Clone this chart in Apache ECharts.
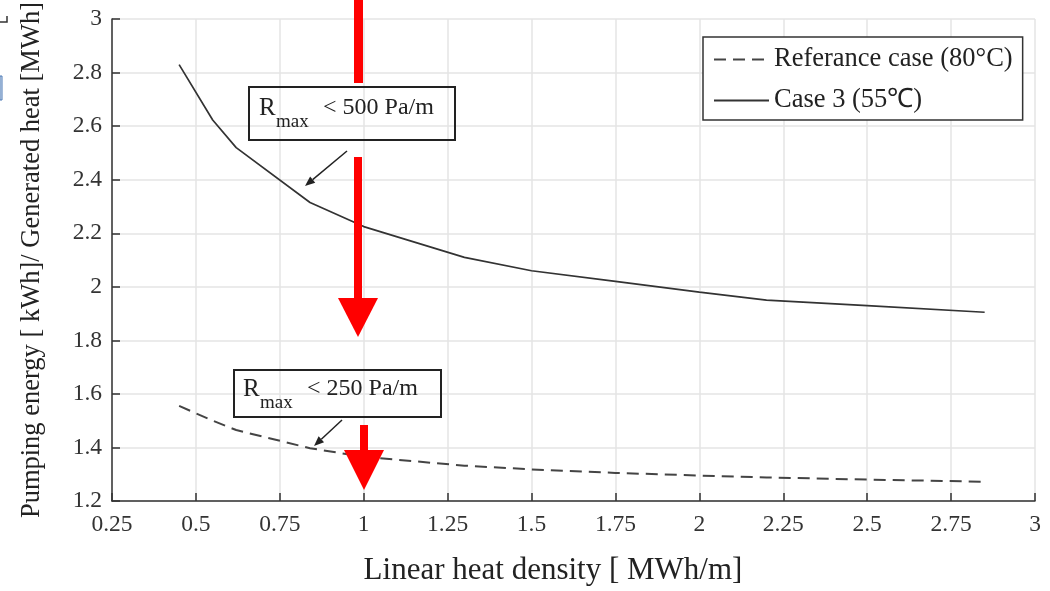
<!DOCTYPE html>
<html>
<head>
<meta charset="utf-8">
<script src="https://cdn.jsdelivr.net/npm/echarts@6/dist/echarts.min.js"></script>
<style>
html,body{margin:0;padding:0;background:#fff;}
#chart{width:1050px;height:591px;}
</style>
</head>
<body>
<div id="chart"></div>
<script>
// ---- data ----
const xValues = [0.45, 0.55, 0.62, 0.84, 1.0, 1.3, 1.5, 1.75, 2.0, 2.2, 2.5, 2.85];
const referenceCase = [1.555, 1.50, 1.465, 1.397, 1.365, 1.332, 1.318, 1.305, 1.295, 1.288, 1.280, 1.272];
const case3 = [2.83, 2.623, 2.52, 2.315, 2.225, 2.11, 2.06, 2.02, 1.98, 1.95, 1.93, 1.905];
const seriesNames = ['Referance case (80°C)', 'Case 3 (55℃)'];
const xAxisTitle = 'Linear heat density [ MWh/m]';
const yAxisTitle = 'Pumping energy [ kWh]/ Generated heat [MWh]';
const annotation1 = '< 500 Pa/m';
const annotation2 = '< 250 Pa/m';

const FONT = 'Liberation Serif, Times New Roman, serif';
const pairs = (ys) => xValues.map((x, i) => [x, ys[i]]);

function arrow(x1, y1, x2, y2, color) {
  const dx = x2 - x1, dy = y2 - y1, L = Math.hypot(dx, dy);
  const ux = dx / L, uy = dy / L, len = 10, hw = 4;
  const bx = x2 - ux * len, by = y2 - uy * len;
  return [
    {type: 'line', shape: {x1: x1, y1: y1, x2: bx, y2: by}, style: {stroke: color, lineWidth: 1.5}, z: 50},
    {type: 'polygon', shape: {points: [[x2, y2], [bx - uy * hw, by + ux * hw], [bx + uy * hw, by - ux * hw]]}, style: {fill: color}, z: 50}
  ];
}

function rmaxBox(bx, by, bw, bh, textLine, tx, baseline) {
  return [
    {type: 'rect', shape: {x: bx, y: by, width: bw, height: bh}, style: {fill: 'transparent', stroke: '#222', lineWidth: 2}, z: 50},
    {type: 'text', x: tx, y: baseline - 8, style: {text: 'R', font: '25px ' + FONT, fill: '#222', verticalAlign: 'middle'}, z: 50},
    {type: 'text', x: tx + 17, y: baseline + 6, style: {text: 'max', font: '19px ' + FONT, fill: '#222', verticalAlign: 'middle'}, z: 50},
    {type: 'text', x: tx + 64, y: baseline - 8, style: {text: textLine, font: '24px ' + FONT, fill: '#222', verticalAlign: 'middle'}, z: 50}
  ];
}

const RED = '#ff0000';
const graphics = [].concat(
  rmaxBox(249, 87, 206, 53, annotation1, 259, 116),
  arrow(347, 151, 305, 186, '#222'),
  rmaxBox(234, 370, 207, 47, annotation2, 243, 397),
  arrow(342, 420, 314, 446, '#222'),
  [
    // red arrows (overlay annotations)
    {type: 'rect', shape: {x: 354, y: 0, width: 9, height: 83}, style: {fill: RED}, z: 60},
    {type: 'rect', shape: {x: 354, y: 157, width: 8, height: 142}, style: {fill: RED}, z: 60},
    {type: 'polygon', shape: {points: [[338, 298], [378, 298], [358, 337]]}, style: {fill: RED}, z: 60},
    {type: 'rect', shape: {x: 360, y: 425, width: 8, height: 26}, style: {fill: RED}, z: 60},
    {type: 'polygon', shape: {points: [[344, 450], [384, 450], [364, 490]]}, style: {fill: RED}, z: 60},
    // small artefacts at the left edge
    {type: 'polyline', shape: {points: [[0, 22], [7, 22], [7, 16]]}, style: {stroke: '#333', lineWidth: 1.5, fill: null}, z: 60},
    {type: 'rect', shape: {x: 0, y: 76, width: 2, height: 24}, style: {fill: '#dfe8f3', stroke: '#4a78b5', lineWidth: 1}, z: 60}
  ]
);

const chart = echarts.init(document.getElementById('chart'), null, {renderer: 'canvas'});
chart.setOption({
  animation: false,
  backgroundColor: '#fff',
  grid: {left: 112, right: 15, top: 18, bottom: 88, containLabel: false},
  legend: {
    orient: 'vertical',
    left: 703, top: 37,
    itemWidth: 55, itemHeight: 22, itemGap: 14,
    padding: [9, 10, 6, 10],
    borderColor: '#333', borderWidth: 1.5,
    backgroundColor: '#fff',
    itemStyle: {opacity: 0},
    textStyle: {fontFamily: FONT, fontSize: 26.5, color: '#222'},
    data: seriesNames
  },
  xAxis: {
    type: 'value', min: 0.25, max: 3, interval: 0.25,
    axisLine: {show: true, onZero: false, lineStyle: {color: '#333', width: 1.5}},
    axisTick: {show: true, inside: true, length: 8, lineStyle: {color: '#333', width: 1.5}},
    axisLabel: {margin: 12, fontFamily: FONT, fontSize: 23.5, color: '#333', showMinLabel: true, showMaxLabel: true},
    splitLine: {show: true, lineStyle: {color: '#e4e4e4', width: 1.5}},
    name: xAxisTitle, nameLocation: 'middle', nameGap: 54,
    nameTextStyle: {fontFamily: FONT, fontSize: 31, color: '#222', padding: [0, 41, 0, 0]}
  },
  yAxis: {
    type: 'value', min: 1.2, max: 3, interval: 0.2,
    axisLine: {show: true, onZero: false, lineStyle: {color: '#333', width: 1.5}},
    axisTick: {show: true, inside: true, length: 8, lineStyle: {color: '#333', width: 1.5}},
    axisLabel: {margin: 10, fontFamily: FONT, fontSize: 23.5, color: '#333', showMinLabel: true, showMaxLabel: true},
    splitLine: {show: true, lineStyle: {color: '#e4e4e4', width: 1.5}},
    name: yAxisTitle, nameLocation: 'middle', nameGap: 66,
    nameTextStyle: {fontFamily: FONT, fontSize: 26.5, color: '#222'}
  },
  series: [
    {
      name: seriesNames[0], type: 'line', data: pairs(referenceCase),
      symbol: 'none', showSymbol: false, smooth: false,
      lineStyle: {color: '#444', width: 2, type: [12, 7]},
      itemStyle: {color: '#444'}, z: 3
    },
    {
      name: seriesNames[1], type: 'line', data: pairs(case3),
      symbol: 'none', showSymbol: false, smooth: false,
      lineStyle: {color: '#333', width: 1.7, type: 'solid'},
      itemStyle: {color: '#333'}, z: 3
    }
  ],
  graphic: graphics
});
</script>
</body>
</html>
